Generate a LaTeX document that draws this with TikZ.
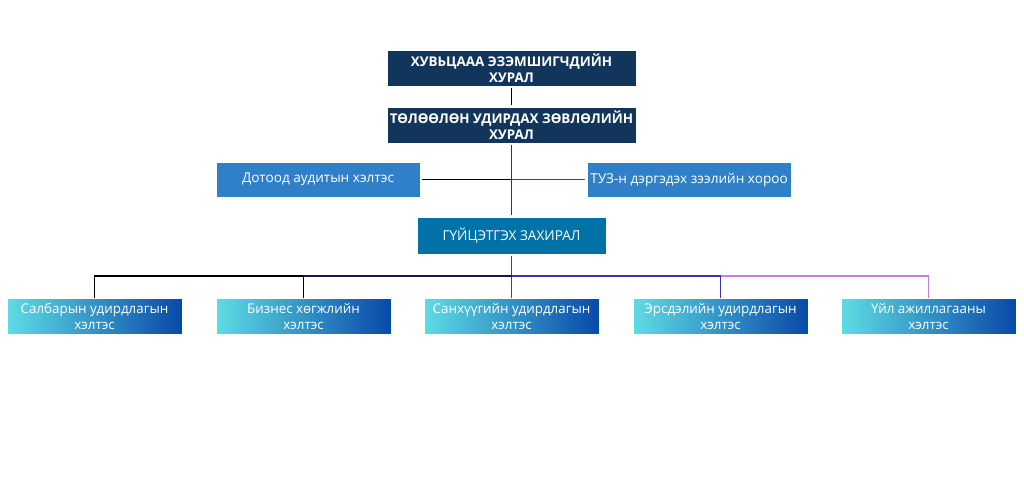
\documentclass[tikz,border=0pt]{standalone}
\usepackage{fontspec}
\setmainfont{Open Sans}
\usetikzlibrary{positioning}

\definecolor{navy}{HTML}{12355B}
\definecolor{midblue}{HTML}{2F80C8}
\definecolor{ceoblue}{HTML}{0072A7}
\definecolor{cyanleft}{HTML}{5EDCE4}
\definecolor{blueright}{HTML}{0849A8}
\definecolor{linkblue}{HTML}{3A3AC8}
\definecolor{linkviolet}{HTML}{C27FE6}

\tikzset{
  board/.style={fill=navy, draw=white, text=white, font=\bfseries\fontsize{13.4}{15.5}\selectfont,
    minimum width=249pt, minimum height=36pt, align=center, inner sep=0pt},
  dept/.style={fill=midblue, draw=white, text=white, font=\fontsize{13.6}{16}\selectfont,
    minimum width=204pt, minimum height=35pt, align=center, inner sep=0pt},
  ceobox/.style={fill=ceoblue, draw=white, text=white, font=\fontsize{13.6}{16}\selectfont,
    minimum width=189pt, minimum height=37pt, align=center, inner sep=0pt},
  unit/.style={left color=cyanleft, right color=blueright, draw=white, text=white,
    font=\fontsize{13.4}{16.5}\selectfont, minimum width=175pt, minimum height=36pt,
    align=center, inner sep=0pt},
  link/.style={line width=1.2pt}
}

\begin{document}
\begin{tikzpicture}[x=1pt, y=-1pt]
    \useasboundingbox (0,0) rectangle (1024,481);

    % Draw the board nodes
    \node[board] (holders) at (511.5,68) {ХУВЬЦААА ЭЗЭМШИГЧДИЙН\\ХУРАЛ};
    \node[board] (council) at (511.5,125) {ТӨЛӨӨЛӨН УДИРДАХ ЗӨВЛӨЛИЙН\\ХУРАЛ};

    % Committees beside the board
    \node[dept] (audit) at (318,179.5) {Дотоод аудитын хэлтэс};
    \node[dept] (credit) at (689,179.5) {ТУЗ-н дэргэдэх зээлийн хороо};

    % Chief executive
    \node[ceobox] (ceo) at (511.5,235.5) {ГҮЙЦЭТГЭХ ЗАХИРАЛ};

    % Departments
    \node[unit] (branch) at (94.5,316.5) {Салбарын удирдлагын\\хэлтэс};
    \node[unit] (business) at (303.5,316.5) {Бизнес хөгжлийн\\хэлтэс};
    \node[unit] (finance) at (511.5,316.5) {Санхүүгийн удирдлагын\\хэлтэс};
    \node[unit] (risk) at (720.5,316.5) {Эрсдэлийн удирдлагын\\хэлтэс};
    \node[unit] (operation) at (928.5,316.5) {Үйл ажиллагааны\\хэлтэс};

    % Draw the links
    \coordinate (bus) at (511.5,276);
    \draw[link, shorten <=2pt, shorten >=2pt] (holders) -- (council);
    \draw[link, color=navy!70!linkblue, shorten <=2pt, shorten >=2pt] (council) -- (ceo);
    \draw[link, shorten <=2pt] (audit.east) -- (council.south |- audit.east);
    \draw[link, linkblue, shorten >=2pt] (council.south |- credit.west) -- (credit.west);
    \draw[link, color=linkblue, shorten <=2pt] (ceo) -- (bus);

    % Bus to the departments
    \draw[link] (bus) -| (business.north);
    \draw[link] (business.north |- bus) -| (branch.north);
    \draw[link, linkblue] (bus) -- (finance.north);
    \draw[link, linkblue!90!black] (bus) -| (risk.north);
    \draw[link, linkviolet] (risk.north |- bus) -| (operation.north);
    \draw[link, black!60!linkblue] (business.north |- bus) -- (bus);

\end{tikzpicture}
\end{document}
